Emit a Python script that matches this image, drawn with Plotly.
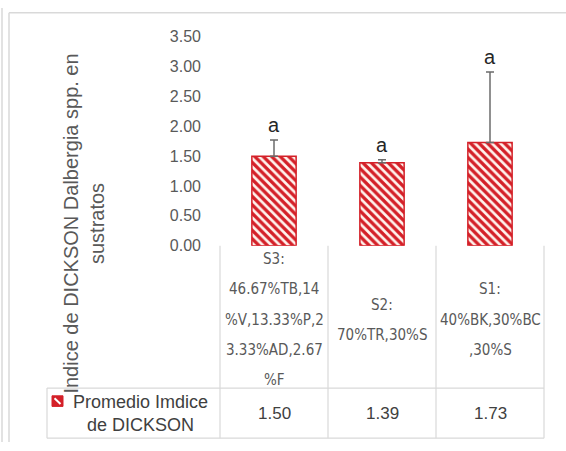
import plotly.graph_objects as go

# ---------------- data ----------------
categories = [
    "S3:<br>46.67%TB,14<br>%V,13.33%P,2<br>3.33%AD,2.67<br>%F",
    "S2:<br>70%TR,30%S",
    "S1:<br>40%BK,30%BC<br>,30%S",
]
means = [1.50, 1.39, 1.73]
err_up = [0.27, 0.05, 1.18]
letters = ["a", "a", "a"]
value_labels = ["1.50", "1.39", "1.73"]
series_name = "Promedio Imdice<br>de DICKSON"
y_title = "Indice de DICKSON Dalbergia spp. en<br>sustratos"
y_ticks = [0, 0.5, 1.0, 1.5, 2.0, 2.5, 3.0, 3.5]

# ---------------- layout helpers ----------------
W, H = 566, 451
def px(x):
    return x / W
def py(y):
    return 1 - y / H

X0, X1 = 220, 544          # plot area left/right (px)
Y0, Y1 = 247, 30           # y=0 and y=3.5 (px)
GRID = "#d9d9d9"
TXT = "#595959"
RED = "#d42028"

keys = ["c%d" % i for i in range(len(categories))]

fig = go.Figure()
fig.add_trace(go.Bar(
    x=keys, y=means,
    marker=dict(
        color="#fff4ee",
        line=dict(color=RED, width=1.5),
        pattern=dict(shape="\\", fgcolor=RED, bgcolor="#fff4ee",
                     size=6, solidity=0.55, fillmode="replace"),
    ),
    error_y=dict(type="data", symmetric=False, array=err_up,
                 arrayminus=[0] * len(err_up), color="#6b6b6b",
                 thickness=1.5, width=4),
    showlegend=False,
    hoverinfo="skip",
))

annotations = []
shapes = []

# significance letters
for k, m, e, l in zip(keys, means, err_up, letters):
    annotations.append(dict(x=k, y=m + e, xref="x", yref="y", text=l,
                            showarrow=False, yanchor="bottom", yshift=2,
                            font=dict(size=20, color="#262626",
                                      family="Liberation Sans, Arial")))

# y-axis title
annotations.append(dict(x=px(84), y=py(224), xref="paper", yref="paper",
                        text=y_title, textangle=-90, showarrow=False,
                        xanchor="center", yanchor="middle",
                        font=dict(size=20, color=TXT,
                                  family="Liberation Sans, Arial")))

# data table
n = len(categories)
colw = (X1 - X0) / n
TAB_BOT = 447
ROW2 = 395
LEG_L = 47
line = dict(color=GRID, width=1.2)
for i in range(n + 1):
    xv = X0 + i * colw
    shapes.append(dict(type="line", xref="paper", yref="paper",
                       x0=px(xv), x1=px(xv), y0=py(Y0), y1=py(TAB_BOT), line=line))
for yv in (ROW2, TAB_BOT):
    shapes.append(dict(type="line", xref="paper", yref="paper",
                       x0=px(LEG_L), x1=px(X1), y0=py(yv), y1=py(yv), line=line))
shapes.append(dict(type="line", xref="paper", yref="paper",
                   x0=px(LEG_L), x1=px(LEG_L), y0=py(ROW2), y1=py(TAB_BOT), line=line))

# chart frame
shapes.append(dict(type="line", xref="paper", yref="paper",
                   x0=px(9), x1=px(9), y0=py(5), y1=0, line=dict(color=GRID, width=1.5)))
shapes.append(dict(type="line", xref="paper", yref="paper",
                   x0=px(9), x1=1, y0=py(5), y1=py(5), line=dict(color=GRID, width=1.5)))
shapes.append(dict(type="line", xref="paper", yref="paper",
                   x0=px(2), x1=px(2), y0=1, y1=0, line=dict(color=GRID, width=1.5)))

# category header texts (one annotation per line)
CAT_FONT = dict(size=15, color=TXT,
                family="Liberation Sans Narrow, DejaVu Sans Condensed, Arial Narrow, Liberation Sans, sans-serif")
for i, c in enumerate(categories):
    lines = c.split("<br>")
    cx = X0 + (i + 0.5) * colw
    for j, t in enumerate(lines):
        yy = 324 + (j - (len(lines) - 1) / 2) * 31.5
        annotations.append(dict(x=px(cx), y=py(yy), xref="paper", yref="paper",
                                text=t, showarrow=False, xanchor="center",
                                yanchor="middle", font=CAT_FONT))

# values row
for i, v in enumerate(value_labels):
    cx = X0 + (i + 0.5) * colw
    annotations.append(dict(x=px(cx), y=py(421), xref="paper", yref="paper",
                            text=v, showarrow=False, xanchor="center",
                            yanchor="middle",
                            font=dict(size=17, color="#404040",
                                      family="Liberation Sans, Arial")))

# legend key in table
annotations.append(dict(x=px(140), y=py(421), xref="paper", yref="paper",
                        text=series_name, showarrow=False, xanchor="center",
                        yanchor="middle", align="center",
                        font=dict(size=18, color="#404040",
                                  family="Liberation Sans, Arial")))
shapes.append(dict(type="rect", xref="paper", yref="paper",
                   x0=px(52), x1=px(63), y0=py(414), y1=py(403),
                   fillcolor=RED, line=dict(color=RED, width=1)))
shapes.append(dict(type="line", xref="paper", yref="paper",
                   x0=px(54.5), x1=px(60.5), y0=py(405.5), y1=py(411.5),
                   line=dict(color="white", width=2)))

fig.update_layout(
    width=W, height=H,
    margin=dict(l=0, r=0, t=0, b=0),
    paper_bgcolor="white", plot_bgcolor="white",
    bargap=0.59,
    xaxis=dict(domain=[px(X0), px(X1)], showticklabels=False, showgrid=False,
               zeroline=False, showline=False, ticks=""),
    yaxis=dict(domain=[py(Y0), py(Y1)], range=[0, 3.5], tickvals=y_ticks,
               tickformat=".2f", showgrid=False, zeroline=False, showline=False,
               ticks="", ticklabelstandoff=18,
               tickfont=dict(size=16, color=TXT, family="Liberation Sans, Arial")),
    annotations=annotations,
    shapes=shapes,
    showlegend=False,
)

fig.write_html("out.html", config={"displayModeBar": False},
               post_script="document.body.style.margin='0';document.body.style.overflow='hidden';")
